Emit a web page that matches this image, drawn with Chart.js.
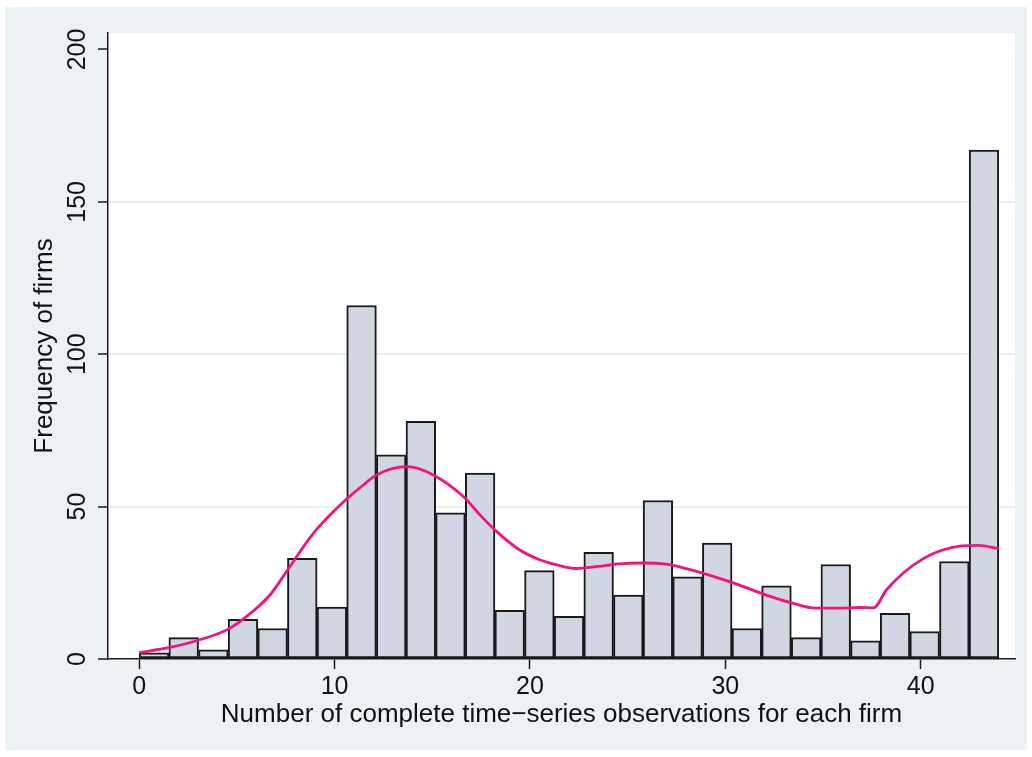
<!DOCTYPE html>
<html>
<head>
<meta charset="utf-8">
<script src="https://cdn.jsdelivr.net/npm/chart.js@4.4.1/dist/chart.umd.min.js"></script>
<style>
    html, body { margin: 0; padding: 0; background: #ffffff; }
    canvas { display: block; }
</style>
</head>
<body>
<canvas id="histChart" width="1032" height="757"></canvas>
<script>
// histogram bins: 29 bins from 0 to 44
const binStart = 0;
const binWidth = 44 / 29;
const binCounts = [2, 7, 3, 13, 10, 33, 17, 116, 67, 78, 48, 61, 16, 29, 14,
                   35, 21, 52, 27, 38, 10, 24, 7, 31, 6, 15, 9, 32, 167];

// kernel density overlay (scaled to frequency)
const densityX = [0, 1.49, 2.94, 4.56, 5.58, 6.69, 7.54, 8.23, 8.91, 9.93, 10.62, 11.47,
                  12.15, 13.69, 15.05, 16.59, 17.44, 18.3, 19.42, 20.37, 21.42, 22.37, 23.5,
                  24.55, 25.76, 26.98, 28.19, 29.58, 30.62, 32.18, 33.4, 34.62, 35.83, 36.88,
                  37.58, 38.27, 39.14, 40.18, 41.05, 42.09, 42.96, 44.0];
const densityY = [2.1, 3.7, 6.0, 9.8, 14.4, 21.0, 28.7, 35.2, 41.2, 48.3, 52.5, 57.1,
                  60.4, 63.1, 60.4, 53.3, 47.3, 41.8, 36.0, 32.9, 30.8, 29.7, 30.4,
                  31.2, 31.5, 31.1, 29.3, 26.7, 24.5, 20.8, 18.4, 16.7, 16.7, 16.9,
                  16.8, 22.8, 28.4, 33.1, 35.6, 37.1, 37.3, 36.2];

const xTicks = [0, 10, 20, 30, 40];
const yTicks = [0, 50, 100, 150, 200];
const xTitle = 'Number of complete time\u2212series observations for each firm';
const yTitle = 'Frequency of firms';

const FONT = '"Liberation Sans", Arial, Helvetica, sans-serif';
const BG = '#eaf2f3';

const barPoints = binCounts.map((c, i) => ({ x: binStart + (i + 0.5) * binWidth, y: c }));
const densityPoints = densityX.map((x, i) => ({ x: x, y: densityY[i] }));

const backgroundPlugin = {
    id: 'stataBackground',
    beforeDraw(chart) {
        const { ctx, chartArea } = chart;
        ctx.save();
        ctx.fillStyle = '#ffffff';
        ctx.fillRect(0, 0, chart.width, chart.height);
        ctx.fillStyle = BG;
        ctx.fillRect(5, 7, 1022, 743);
        ctx.fillStyle = '#ffffff';
        ctx.fillRect(chartArea.left, chartArea.top,
                     chartArea.right - chartArea.left, chartArea.bottom - chartArea.top);
        ctx.restore();
    }
};

// vertical (rotated) y tick labels, like Stata
const yLabelPlugin = {
    id: 'rotatedYLabels',
    afterDraw(chart) {
        const { ctx } = chart;
        const yScale = chart.scales.y;
        ctx.save();
        ctx.fillStyle = '#111111';
        ctx.font = '25px ' + FONT;
        ctx.textAlign = 'center';
        ctx.textBaseline = 'alphabetic';
        yScale.ticks.forEach(t => {
            const py = yScale.getPixelForValue(t.value);
            ctx.save();
            ctx.translate(85, py);
            ctx.rotate(-Math.PI / 2);
            ctx.fillText(String(t.value), 0, 0);
            ctx.restore();
        });
        ctx.restore();
    }
};

const ctx = document.getElementById('histChart').getContext('2d');
const histChart = new Chart(ctx, {
    type: 'bar',
    data: {
        datasets: [
            {
                type: 'line',
                data: densityPoints,
                borderColor: '#f5127e',
                borderWidth: 2.8,
                pointRadius: 0,
                fill: false,
                cubicInterpolationMode: 'monotone',
                order: 0
            },
            {
                type: 'bar',
                data: barPoints,
                backgroundColor: '#d0d6e2',
                borderColor: '#1a1a1a',
                borderWidth: 2,
                borderSkipped: false,
                barPercentage: 1,
                categoryPercentage: 1,
                order: 1
            }
        ]
    },
    options: {
        responsive: false,
        animation: false,
        devicePixelRatio: 1,
        layout: { padding: { left: 0, top: 33, right: 17, bottom: 0 } },
        plugins: {
            legend: { display: false },
            tooltip: { enabled: false }
        },
        scales: {
            x: {
                type: 'linear',
                min: -1.6,
                max: 44.83,
                offset: false,
                afterBuildTicks: scale => { scale.ticks = xTicks.map(v => ({ value: v })); },
                afterFit: scale => { scale.height = 98; },
                grid: {
                    offset: false,
                    drawOnChartArea: false,
                    drawTicks: true,
                    tickLength: 10,
                    tickColor: '#1a1a1a',
                    tickWidth: 1.5
                },
                border: { display: true, color: '#1a1a1a', width: 1.5 },
                ticks: {
                    color: '#111111',
                    font: { family: FONT, size: 25 },
                    padding: 3,
                    maxRotation: 0,
                    autoSkip: false
                },
                title: {
                    display: true,
                    text: xTitle,
                    color: '#111111',
                    font: { family: FONT, size: 26 },
                    padding: { top: 0, bottom: 27 }
                }
            },
            y: {
                type: 'linear',
                min: 0,
                max: 205.4,
                afterBuildTicks: scale => { scale.ticks = yTicks.map(v => ({ value: v })); },
                afterFit: scale => { scale.width = 108; },
                grid: {
                    color: c => (c.tick && c.tick.value > 0 && c.tick.value < 200) ? '#e6eef0' : 'rgba(0,0,0,0)',
                    lineWidth: 2,
                    drawTicks: true,
                    tickLength: 10,
                    tickColor: '#1a1a1a',
                    tickWidth: 1.5
                },
                border: { display: true, color: '#1a1a1a', width: 1.5 },
                ticks: { display: false },
                title: {
                    display: true,
                    text: yTitle,
                    color: '#111111',
                    font: { family: FONT, size: 26 },
                    padding: { top: 29, bottom: 0 }
                }
            }
        }
    },
    plugins: [backgroundPlugin, yLabelPlugin]
});
</script>
</body>
</html>
